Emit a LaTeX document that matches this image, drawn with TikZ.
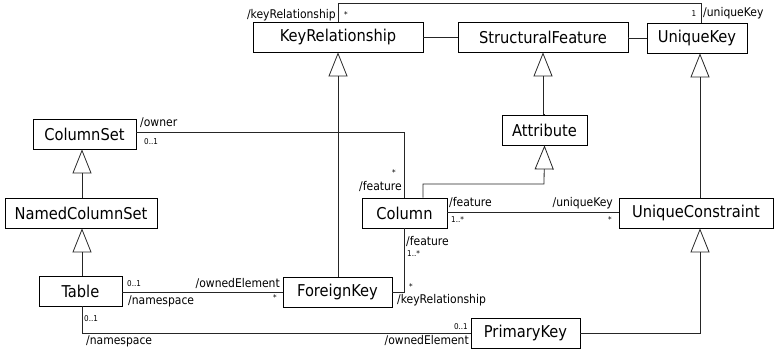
\documentclass[tikz,border=0pt]{standalone}
\usepackage{fontspec}
\setmainfont{DejaVu Sans Condensed}
\usetikzlibrary{arrows.meta}
\begin{document}
\begin{tikzpicture}[x=1pt,y=-1pt,
  cls/.style={draw=black, line width=0.8pt, minimum height=30pt, inner sep=0pt,
    font=\fontsize{16.3}{19}\selectfont},
  assoc/.style={draw=black!85, line width=0.8pt},
  gen/.style={draw=black!85, line width=0.8pt,
    -{Triangle[open, length=24pt, width=19pt, line width=0.8pt]}},
  role/.style={inner sep=0pt, font=\fontsize{12}{14}\selectfont},
  mult/.style={inner sep=0pt, font=\fontsize{8}{9}\selectfont}]
\useasboundingbox (0,0) rectangle (776,352);

% classes
\node[cls, minimum width=170pt] (kr)   at (338,37)    {KeyRelationship};
\node[cls, minimum width=170pt] (sf)   at (543,37)    {StructuralFeature};
\node[cls, minimum width=100pt] (uk)   at (697,38)    {UniqueKey};
\node[cls, minimum width=85pt]  (attr) at (544.5,130) {Attribute};
\node[cls, minimum width=103pt] (cs)   at (84.5,134)  {ColumnSet};
\node[cls, minimum width=152pt] (ncs)  at (81,213)    {NamedColumnSet};
\node[cls, minimum width=83pt]  (tab)  at (80.5,291)  {Table};
\node[cls, minimum width=109pt] (fk)   at (337.5,292) {ForeignKey};
\node[cls, minimum width=85pt]  (col)  at (404.5,213) {Column};
\node[cls, minimum width=154pt] (uc)   at (696,213)   {UniqueConstraint};
\node[cls, minimum width=109pt] (pk)   at (525.5,333) {PrimaryKey};

% helper coordinates for routed connectors
\coordinate (gx)    at (82,0);
\coordinate (ukx)   at (700,0);
\coordinate (topR)  at (701,3);
\coordinate (bend1) at (544,184);
\coordinate (colx)  at (423,0);

% feature links
\draw[assoc] (kr.east) -- (kr.east -| sf.west);
\draw[assoc] (sf.east) -- (sf.east |- uk.west) -- (uk.west);
\draw[assoc] (kr.north) |- (topR) -- (topR |- uk.north);

% generalizations
\draw[gen] (fk.north -| kr.south) -- (kr.south);
\draw[gen] (attr.north) -- (attr.north -| sf.south) -- (sf.south);
\draw[gen] (col.north -| colx) |- (bend1) -- (attr.south);
\draw[gen] (ncs.north -| gx) -- (cs.south -| gx);
\draw[gen] (tab.north -| gx) -- (ncs.south -| gx);
\draw[gen] (uc.north -| ukx) -- (uk.south -| ukx);
\draw[gen] (pk.east) -| (uc.south -| ukx);

% associations
\draw[assoc] (cs.east |- 0,132) -| (col.north);
\draw[assoc] (tab.east |- fk.west) -- (fk.west);
\draw[assoc] (tab.south -| gx) |- (pk.west);
\draw[assoc] (col.east |- 0,212) -- (uc.west |- 0,212);
\draw[assoc] (col.south) |- (fk.east);

% role names and multiplicities
\node[role, anchor=east] (l1)  at (336,15)  {/keyRelationship};
\node[mult] (m1)  at (346,15)  {*};
\node[mult] (m2)  at (694,14)  {1};
\node[role, anchor=west] (l2)  at (703,13)  {/uniqueKey};

\node[role, anchor=west] (l3)  at (140,123) {/owner};
\node[mult, anchor=west] (m3)  at (144,142) {0..1};
\node[mult] (m4)  at (394,173) {*};
\node[role, anchor=east] (l4)  at (402,187) {/feature};

\node[role, anchor=west] (l5)  at (449,203) {/feature};
\node[mult, anchor=west] (m5)  at (451,220) {1..*};
\node[role, anchor=east] (l6)  at (613,203) {/uniqueKey};
\node[mult] (m6)  at (610,220) {*};

\node[role, anchor=west] (l7)  at (406,241) {/feature};
\node[mult, anchor=west] (m7)  at (407,254) {1..*};
\node[mult] (m8)  at (411,287) {*};
\node[role, anchor=west] (l8)  at (397,300) {/keyRelationship};

\node[mult, anchor=west] (m9)  at (127,284) {0..1};
\node[role, anchor=east] (l9)  at (280,283) {/ownedElement};
\node[role, anchor=west] (l10) at (128,301) {/namespace};
\node[mult] (m10) at (275,298) {*};

\node[mult, anchor=west] (m11) at (84,319)  {0..1};
\node[role, anchor=west] (l11) at (86,341)  {/namespace};
\node[mult, anchor=east] (m12) at (468,327) {0..1};
\node[role, anchor=east] (l12) at (469,340) {/ownedElement};
\end{tikzpicture}
\end{document}
